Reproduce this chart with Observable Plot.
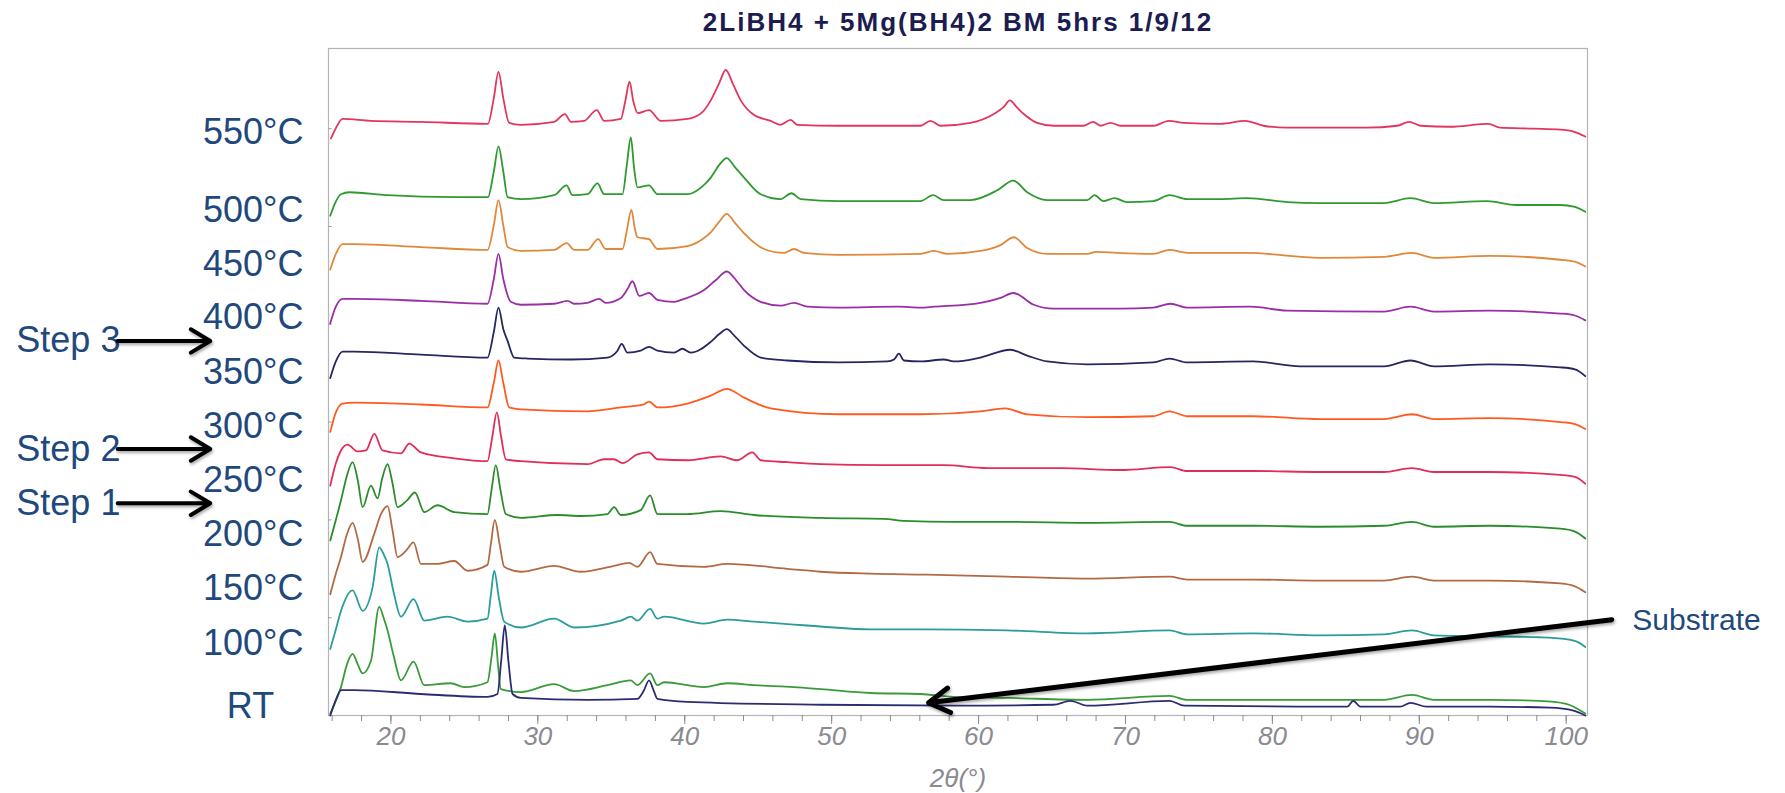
<!DOCTYPE html>
<html><head><meta charset="utf-8">
<script src="https://cdn.jsdelivr.net/npm/d3@7"></script>
<script src="https://cdn.jsdelivr.net/npm/@observablehq/plot@0.6"></script>
<style>
html,body{margin:0;padding:0;background:#fff;}
</style>
</head><body><div id="chart"></div>
<script>
// ---- data: [2θ (°), intensity (a.u., stacked)] ----
const s550 = [[15.92,590],[16.3,602],[16.71,610],[18.64,608],[22.04,607],[26.6,605],[27.0,631],[27.32,658],[27.65,631],[28.05,606],[28.84,604],[31.11,607],[31.84,615],[32.25,607],[33.15,608],[34.01,619],[34.51,608],[35.65,610],[35.95,628],[36.24,648],[36.5,628],[36.8,616],[37.57,619],[38.37,608],[40.18,610],[41.2,617],[41.77,629],[42.33,646],[42.79,660],[43.3,645],[43.81,629],[44.72,614],[45.85,608],[46.5,604],[47.21,609],[47.66,604],[50.4,603],[56.05,603],[56.73,608],[57.4,603],[59.45,606],[61.04,615],[61.7,622],[62.13,629],[62.6,622],[63.08,615],[63.99,606],[65.12,603],[67.16,603],[67.8,607],[68.3,603],[68.98,606],[69.66,603],[71.9,603],[72.95,608],[73.97,606],[76.46,605],[78.16,608],[79.4,603],[81.0,601],[86.4,601],[88.5,603],[89.3,607],[90.1,603],[92.1,602],[94.7,605],[95.5,601],[97.8,600],[99.6,599],[100.5,597],[101.3,592]];
const s500 = [[15.87,511],[16.2,524],[16.6,533],[17.17,535],[19.77,532],[24.31,530],[26.6,530],[27.0,556],[27.32,582],[27.65,556],[27.94,530],[28.84,528],[31.11,532],[31.95,542],[32.36,532],[33.38,533],[34.06,544],[34.51,533],[35.76,533],[36.05,562],[36.33,591],[36.55,560],[36.78,540],[37.57,542],[38.14,533],[40.18,533],[41.2,541],[41.77,550],[42.35,563],[42.86,570],[43.4,561],[44.04,550],[45.17,533],[46.53,528],[47.26,534],[47.89,528],[50.5,526],[56.05,526],[56.9,532],[57.64,527],[59.45,527],[61.27,537],[62.36,547],[63.31,535],[64.67,527],[67.4,527],[67.89,532],[68.5,526],[69.25,529],[70.1,525],[71.9,526],[73.0,532],[74.2,528],[76.46,528],[78.3,529],[81.0,525],[83.26,524],[87.6,524],[89.4,529],[91,524],[94.6,526],[96.6,522],[99.6,522],[100.6,520],[101.3,515]];
const s450 = [[15.87,456],[16.25,472],[16.71,482],[17.5,482],[22.04,479],[26.57,476],[27.0,501],[27.32,527],[27.65,501],[27.94,479],[28.84,475],[31.11,476],[31.97,483],[32.47,476],[33.38,476],[34.1,487],[34.62,477],[35.76,477],[36.07,497],[36.37,517],[36.6,498],[36.78,489],[37.57,487],[38.14,477],[40.18,480],[41.2,487],[41.77,494],[42.35,505],[42.86,513],[43.4,504],[44.04,493],[45.4,477],[46.76,473],[47.44,477],[48.12,473],[50.5,471],[56.05,472],[56.96,475],[57.87,472],[60.13,475],[61.5,481],[62.4,489],[63.31,478],[64.67,472],[67.4,472],[68.0,474],[69.4,473],[71.9,472],[73.0,476],[74.2,473],[78.3,473],[83.26,468],[87.6,469],[89.5,473],[91,468],[94.8,470],[99.6,466],[100.6,464],[101.3,459]];
const s400 = [[15.87,401],[16.25,418],[16.71,426],[17.5,426],[22.04,424],[26.57,421],[27.0,446],[27.32,472],[27.65,446],[28.16,423],[28.84,420],[31.11,421],[32.02,424],[32.47,421],[33.38,422],[34.17,426],[34.62,422],[35.65,427],[36.1,436],[36.44,444],[36.9,429],[37.57,432],[38.14,425],[39.27,423],[39.95,426],[41.31,435],[42.1,445],[42.86,454],[43.5,445],[44.04,435],[45.17,423],[46.53,419],[47.44,422],[48.35,418],[50.5,417],[54.5,418],[56.05,417],[56.96,418],[60.13,422],[61.5,427],[62.36,432],[63.76,420],[65.1,416],[69.66,416],[71.9,417],[73.06,421],[74.2,417],[78.5,418],[81,414],[87.6,413],[89.4,418],[91,413],[94.8,414],[99.6,411],[100.6,409],[101.3,404]];
const s350 = [[15.87,345],[16.25,362],[16.71,372],[17.5,372],[22.04,369],[26.57,366],[27.0,392],[27.32,417],[27.65,395],[27.94,383],[28.39,366],[29.3,365],[32.24,364],[34.74,366],[35.42,373],[35.71,380],[36.1,371],[37.0,373],[37.57,377],[38.14,373],[39.27,371],[39.84,375],[40.41,371],[41.77,382],[42.35,390],[42.86,395],[43.4,388],[44.04,378],[45.17,366],[46.98,363],[50.5,361],[53.8,362],[54.24,364],[54.58,370],[54.92,363],[56.05,362],[57.64,364],[58.3,362],[60.13,366],[62.17,374],[63.31,368],[64.67,362],[67.4,359],[71.9,361],[73.0,365],[74.2,361],[78.7,362],[81.9,357],[87.6,357],[89.4,363],[91,357],[94.8,359],[99.6,356],[100.6,354],[101.3,347]];
const s300 = [[15.87,290],[16.25,310],[16.71,319],[17.5,320],[22.04,318],[26.57,315],[27.0,340],[27.32,363],[27.65,340],[28.05,315],[28.84,313],[33.38,311],[35.65,315],[37.2,318],[37.57,321],[38.14,315],[40.18,319],[41.77,327],[42.86,334],[44.04,325],[45.85,314],[50.5,308],[56.05,308],[60.13,311],[61.8,314],[63.31,308],[67.4,305],[71.9,306],[73.0,311],[74.2,306],[78.7,306],[83.26,303],[87.6,303],[89.5,308],[91,303],[94.8,304],[99.6,300],[100.6,298],[101.3,293]];
const s250 = [[15.87,235],[16.25,258],[16.6,271],[17.05,277],[17.73,270],[18.3,271],[18.87,288],[19.43,271],[20.68,268],[21.25,278],[22.04,269],[24.31,263],[26.57,260],[26.9,285],[27.21,310],[27.5,285],[27.82,262],[28.84,260],[33.38,257],[34.51,262],[35.19,262],[35.76,258],[36.78,267],[37.57,269],[38.14,262],[40.18,261],[42.45,265],[43.58,261],[44.6,269],[45.17,261],[46.98,259],[49.25,257],[53.5,256],[57.64,256],[60.6,253],[65.6,253],[69.66,251],[73.06,254],[74.2,250],[78.7,250],[83.26,249],[87.6,249],[89.5,253],[91,249],[94.8,249],[99.6,246],[100.6,244],[101.3,237]];
const s200 = [[15.87,179],[16.25,200],[16.6,220],[17.0,245],[17.39,259],[17.75,240],[18.07,213],[18.64,235],[19.09,222],[19.4,242],[19.77,257],[20.1,238],[20.45,213],[21.1,220],[21.63,228],[22.27,208],[23.17,215],[24.31,208],[26.57,206],[26.85,231],[27.14,256],[27.45,231],[27.82,206],[28.84,202],[31.34,205],[32.92,204],[34.74,206],[35.19,213],[35.65,205],[37.0,210],[37.64,225],[38.14,206],[40.18,206],[42.45,209],[44.72,205],[49.25,202],[53.56,201],[54.9,199],[58.3,198],[62.3,198],[67.4,197],[73.0,198],[74.2,194],[78.7,194],[83.26,193],[87.6,194],[89.5,198],[91,193],[94.8,194],[99.6,191],[100.6,188],[101.3,181]];
const s150 = [[15.87,124],[16.25,145],[16.6,162],[17.0,185],[17.39,197],[17.75,180],[18.07,157],[18.87,186],[19.32,206],[19.77,214],[20.1,190],[20.45,162],[21.0,168],[21.54,177],[22.04,155],[23.17,155],[24.31,158],[25.22,148],[26.57,154],[26.8,175],[27.07,200],[27.4,175],[27.71,152],[28.84,147],[31.11,153],[32.92,147],[35.19,153],[36.21,156],[36.78,152],[37.64,167],[38.14,155],[41.31,152],[42.9,155],[46.98,150],[49.25,147],[52.65,145],[56.5,144],[61.95,142],[67.4,140],[73.0,142],[74.2,139],[78.7,139],[83.26,138],[87.6,138],[89.5,142],[91,138],[94.8,138],[99.6,135],[100.6,132],[101.3,126]];
const s100 = [[15.87,68],[16.25,88],[16.6,107],[17.39,128],[18.07,107],[18.75,131],[19.2,172],[19.5,165],[19.77,155],[20.2,125],[20.68,101],[21.54,119],[22.27,97],[23.86,101],[25.22,96],[26.57,99],[26.8,123],[27.03,148],[27.35,120],[27.71,96],[28.84,90],[31.11,99],[32.47,90],[35.65,97],[36.33,101],[36.78,97],[37.64,109],[38.14,99],[38.59,101],[41.31,94],[42.9,98],[44.72,96],[47.44,93],[49.25,91],[52.65,88],[56.05,88],[61.95,87],[67.4,84],[73.0,87],[74.2,83],[78.7,84],[83.26,82],[87.6,83],[89.5,87],[91,82],[94.8,81],[98.2,80],[100.0,78],[100.8,75],[101.3,70]];
const sRT = [[15.87,2],[16.25,15],[16.6,29],[17.0,52],[17.39,63],[17.75,52],[18.07,43],[18.64,56],[19.2,111],[19.5,100],[19.77,87],[20.2,60],[20.68,36],[21.54,55],[22.27,31],[24.08,33],[24.99,29],[26.57,34],[26.85,60],[27.07,84],[27.3,50],[27.48,27],[28.84,24],[31.11,32],[32.47,25],[34.74,31],[36.33,36],[36.78,31],[37.64,43],[38.14,31],[38.59,34],[41.31,29],[42.9,33],[44.72,31],[47.44,29],[49.25,27],[52.65,23],[56.05,22],[58.3,19],[61.95,18],[67.4,16],[73.0,20],[74.2,16],[78.7,16],[83.26,16],[87.6,16],[89.5,21],[91,16],[94.8,16],[98.2,15],[100,12],[101.3,2]];
const sSubstrate = [[15.87,0],[16.25,16],[16.6,26],[17.5,26],[22.04,22],[26.57,19],[27.25,22],[27.5,55],[27.75,92],[28.0,55],[28.28,22],[28.84,18],[33.38,16],[36.78,17],[37.2,25],[37.57,36],[37.9,25],[38.14,17],[40.18,14],[49.25,11],[58.3,10],[65.1,11],[66.25,15],[67.4,10],[73.0,15],[74,10],[83.26,9],[85.1,9],[85.5,15],[86,9],[88.7,9],[89.4,13],[90.5,9],[94.8,9],[98.9,8],[100.5,5],[101.3,0]];

const seriesLabels = ["550°C","500°C","450°C","400°C","350°C","300°C","250°C","200°C","150°C","100°C","RT","Substrate"];
const seriesColors = ["#e2365f","#2f9a2f","#e0883a","#9a2fa5","#262660","#ff5a1f","#e02e58","#2b8c2b","#b26a44","#2a9c9c","#3a9a3a","#2c2c72"];
const seriesPoints = [s550,s500,s450,s400,s350,s300,s250,s200,s150,s100,sRT,sSubstrate];

const xTicksMajor = [20,30,40,50,60,70,80,90,100];
const xTicksMinor = [16,18,20,22,24,26,28,30,32,34,36,38,40,42,44,46,48,50,52,54,56,58,60,62,64,66,68,70,72,74,76,78,80,82,84,86,88,90,92,94,96,98,100];
const yTicks = [0,100,200,300,400,500,600];
const xDomain = [15.75, 101.45];
const yDomain = [0, 682];

const titleText = "2LiBH4 + 5Mg(BH4)2 BM 5hrs 1/9/12";
const xLabel = "2θ(°)";
const stepLabels = ["Step 1","Step 2","Step 3"];
const stepBetween = [["200°C","250°C"],["250°C","300°C"],["350°C","400°C"]];
const substrateLabel = "Substrate";

// ---- build ----
const series = seriesLabels.map((label, i) => ({label, color: seriesColors[i], points: seriesPoints[i]}));
const startOf = Object.fromEntries(series.map(s => [s.label, s.points[0][1]]));
const tempSeries = series.filter(s => s.label !== "Substrate" && s.label !== "RT");
const rtSeries = series.filter(s => s.label === "RT");
const steps = stepLabels.map((label, i) => ({label, y: (startOf[stepBetween[i][0]] + startOf[stepBetween[i][1]]) / 2 + 10}));

const FONT = "'Liberation Sans', Arial, sans-serif";
const BLUE = "#1f497d";
const GRAY = "#8a8a90";

const lineMarks = series.map(s => Plot.line(s.points, {
  x: d => d[0], y: d => d[1], stroke: s.color, strokeWidth: 1.8, curve: "monotone-x"
}));

const chart = Plot.plot({
  width: 1785, height: 793,
  marginLeft: 328, marginRight: 198, marginTop: 48, marginBottom: 78,
  x: {domain: xDomain, axis: null},
  y: {domain: yDomain, axis: null},
  style: {fontFamily: FONT, background: "#fff"},
  marks: [
    Plot.frame({stroke: "#b4b4b4", strokeWidth: 1.2}),
    Plot.axisX({ticks: xTicksMinor, tickSize: 6, tickFormat: () => "", label: null, stroke: "#8c8c8c"}),
    Plot.axisX({ticks: xTicksMajor, tickSize: 9, tickPadding: 2, label: null, stroke: "#8c8c8c",
      fill: GRAY, fontSize: 26, fontStyle: "italic", fontFamily: FONT}),
    Plot.ruleY(yTicks, {x1: xDomain[0], x2: xDomain[0] + 0.25, stroke: "#a0a0a0"}),
    ...lineMarks,
    Plot.text(tempSeries, {x: () => xDomain[0], y: d => d.points[0][1], text: d => d.label,
      textAnchor: "end", lineAnchor: "bottom", dx: -25, dy: 6, fontSize: 36, fill: BLUE, fontFamily: FONT}),
    Plot.text(rtSeries, {x: () => xDomain[0], y: d => d.points[0][1], text: d => d.label,
      textAnchor: "middle", lineAnchor: "bottom", dx: -78, dy: 4, fontSize: 36, fill: BLUE, fontFamily: FONT}),
    Plot.text(steps, {x: -5.5, y: "y", text: "label", textAnchor: "start", lineAnchor: "middle",
      fontSize: 36, fill: BLUE, fontFamily: FONT}),
    Plot.arrow(steps, {x1: 1.4, x2: 7.7, y1: "y", y2: "y", stroke: "#000", strokeWidth: 4,
      headLength: 8.5, headAngle: 62}),
    Plot.arrow([substrateLabel], {x1: 103.1, y1: 98, x2: 56.6, y2: 13, stroke: "#000", strokeWidth: 5,
      headLength: 7.2, headAngle: 62}),
    Plot.text([substrateLabel], {x: 104.5, y: 87, text: d => d, textAnchor: "start", lineAnchor: "bottom",
      fontSize: 30, fill: BLUE, fontFamily: FONT}),
    Plot.text([titleText], {frameAnchor: "top", dy: -18, text: d => d, lineAnchor: "bottom",
      fontSize: 26, fontWeight: "bold", fill: "#1c1c50", fontFamily: FONT}),
    Plot.text([xLabel], {frameAnchor: "bottom", dy: 71, text: d => d, lineAnchor: "bottom",
      fontSize: 26, fontStyle: "italic", fill: GRAY, fontFamily: FONT})
  ]
});
document.getElementById("chart").appendChild(chart);
// soft shadow on annotation arrows, letter spacing on the title
d3.select(chart).selectAll('g[aria-label="arrow"] path').style("filter", "drop-shadow(1px 2px 1.5px rgba(0,0,0,0.35))");
d3.select(chart).selectAll("text").filter(function(){ return this.textContent === titleText; }).style("letter-spacing", "2px");
</script>
</body></html>
